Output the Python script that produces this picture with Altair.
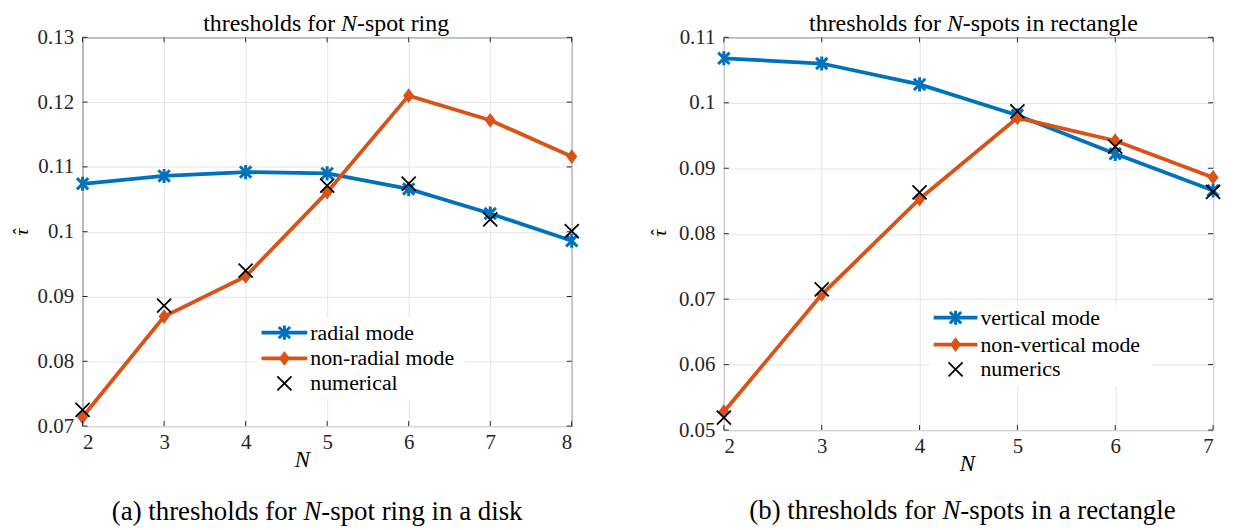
import altair as alt
import pandas as pd

# ---------------- data ----------------
N_a = [2, 3, 4, 5, 6, 7, 8]
radial_mode = [0.1074, 0.1086, 0.1092, 0.1090, 0.1066, 0.1028, 0.0986]
nonradial_mode = [0.0714, 0.0869, 0.0931, 0.1061, 0.1210, 0.1172, 0.1116]
numerical_a = [0.0725, 0.0886, 0.0940, 0.1071, 0.1074, 0.1019, 0.1001]
yticks_a = [0.07, 0.08, 0.09, 0.10, 0.11, 0.12, 0.13]
names_a = ["radial mode", "non-radial mode", "numerical"]

N_b = [2, 3, 4, 5, 6, 7]
vertical_mode = [0.1068, 0.1060, 0.1028, 0.0981, 0.0922, 0.0866]
nonvertical_mode = [0.0528, 0.0707, 0.0853, 0.0977, 0.0942, 0.0886]
numerics_b = [0.0519, 0.0715, 0.0863, 0.0987, 0.0933, 0.0864]
yticks_b = [0.05, 0.06, 0.07, 0.08, 0.09, 0.10, 0.11]
names_b = ["vertical mode", "non-vertical mode", "numerics"]

BLUE = "#0072BD"
ORANGE = "#D95319"
FONT = "'Liberation Serif', 'Times New Roman', serif"
INK = "#262626"

ASTERISK = "M-1,-1L1,1M-1,1L1,-1M0,-1.25L0,1.25"
DIAMOND = "M0,-1L0.75,0L0,1L-0.75,0Z"
XMARK = "M-1,-1L1,1M-1,1L1,-1"

WT = {' ': 250, '(': 333, ')': 333, '-': 333, 'a': 444, 'b': 500, 'c': 444, 'd': 500,
      'e': 444, 'f': 333, 'g': 500, 'h': 500, 'i': 278, 'k': 500, 'l': 278, 'm': 778,
      'n': 500, 'o': 500, 'p': 500, 'r': 333, 's': 389, 't': 278, 'u': 500, 'v': 500,
      'x': 500, 'y': 500, 'N': 667}


def tw(s, size):
    return sum(WT.get(c, 500) for c in s) * size / 1000.0


one = pd.DataFrame({"k": [0]})


def txt(s, x, y, size, align="left", style="normal", angle=0, baseline="middle"):
    kw = dict(align=align, baseline=baseline, font=FONT, fontSize=size,
              fontStyle=style, color="black")
    if angle:
        kw["angle"] = angle
    return alt.Chart(one).mark_text(**kw).encode(
        x=alt.value(x), y=alt.value(y), text=alt.value(s))


def rich(pre, it, post, cx, cy, size, baseline="middle"):
    w1, w2, w3 = tw(pre, size), tw(it, size), tw(post, size)
    x0 = cx - (w1 + w2 + w3) / 2.0
    return [txt(pre.rstrip(), x0, cy, size, baseline=baseline),
            txt(it, x0 + w1, cy, size, style="italic", baseline=baseline),
            txt(post, x0 + w1 + w2, cy, size, baseline=baseline)]


def panel(N, s1, s2, s3, names, yticks, W, H, title, caption, tpos, cpos,
          npos, taupos, box, rows, lx):
    n = len(N)
    df = pd.DataFrame({"N": N * 3, "tau": s1 + s2 + s3,
                       "series": [names[0]] * n + [names[1]] * n + [names[2]] * n})
    xs = alt.Scale(domain=[N[0], N[-1]], nice=False, zero=False)
    ys = alt.Scale(domain=[yticks[0], yticks[-1]], nice=False, zero=False)
    xe = alt.X("N:Q", scale=xs, axis=alt.Axis(values=N, title=None, grid=True, ticks=False,
                                              domain=False, labelPadding=6, format="d"))
    ye = alt.Y("tau:Q", scale=ys, axis=alt.Axis(values=yticks, title=None, grid=True, ticks=False,
                                                domain=False, labelPadding=9, format=".2~f"))
    base = alt.Chart(df).encode(x=xe, y=ye)
    f = lambda i: alt.datum.series == names[i]
    layers = [
        base.transform_filter(f(0)).mark_line(color=BLUE, strokeWidth=3.8),
        base.transform_filter(f(0)).mark_point(shape=ASTERISK, filled=False, size=130,
                                               strokeWidth=3, color=BLUE, opacity=1),
        base.transform_filter(f(1)).mark_line(color=ORANGE, strokeWidth=3.8),
        base.transform_filter(f(1)).mark_point(shape=DIAMOND, filled=True, size=220,
                                               color=ORANGE, opacity=1),
        base.transform_filter(f(2)).mark_point(shape=XMARK, filled=False, size=200,
                                               strokeWidth=1.8, color="black", opacity=1),
    ]
    # inward tick marks on all four sides
    tx = pd.DataFrame({"N": N})
    ty = pd.DataFrame({"tau": yticks})
    tick = dict(color=INK, strokeWidth=1)
    layers += [
        alt.Chart(tx).mark_rule(**tick).encode(x=xe, y=alt.value(H), y2=alt.value(H - 5)),
        alt.Chart(tx).mark_rule(**tick).encode(x=xe, y=alt.value(0), y2=alt.value(5)),
        alt.Chart(ty).mark_rule(**tick).encode(y=ye, x=alt.value(0), x2=alt.value(5)),
        alt.Chart(ty).mark_rule(**tick).encode(y=ye, x=alt.value(W), x2=alt.value(W - 5)),
    ]
    # legend
    x1, y1, x2, y2 = box
    layers.append(alt.Chart(one).mark_rect(color="white").encode(
        x=alt.value(x1), x2=alt.value(x2), y=alt.value(y1), y2=alt.value(y2)))
    la, lb = lx
    mid = (la + lb) / 2.0
    layers.append(alt.Chart(one).mark_rule(color=BLUE, strokeWidth=3.8).encode(
        x=alt.value(la), x2=alt.value(lb), y=alt.value(rows[0])))
    layers.append(alt.Chart(one).mark_point(shape=ASTERISK, filled=False, size=130, strokeWidth=3,
                                            color=BLUE, opacity=1).encode(
        x=alt.value(mid), y=alt.value(rows[0])))
    layers.append(alt.Chart(one).mark_rule(color=ORANGE, strokeWidth=3.8).encode(
        x=alt.value(la), x2=alt.value(lb), y=alt.value(rows[1])))
    layers.append(alt.Chart(one).mark_point(shape=DIAMOND, filled=True, size=220,
                                            color=ORANGE, opacity=1).encode(
        x=alt.value(mid), y=alt.value(rows[1])))
    layers.append(alt.Chart(one).mark_point(shape=XMARK, filled=False, size=200, strokeWidth=1.8,
                                            color="black", opacity=1).encode(
        x=alt.value(mid), y=alt.value(rows[2])))
    for i in range(3):
        layers.append(txt(names[i], lb + 3, rows[i], 22))
    # titles / labels
    layers += rich(*title, tpos[0], tpos[1], 24, baseline="alphabetic")
    layers += rich(*caption, cpos[0], H + cpos[1], 27)
    layers.append(txt("N", npos[0], H + npos[1], 23, align="center", style="italic"))
    layers.append(txt("τ", taupos[0], taupos[1], 20, align="center", style="italic", angle=270))
    layers.append(txt("ˆ", taupos[0] - 1, taupos[1] - 1, 18, align="center", angle=270))
    return alt.layer(*layers).properties(width=W, height=H)


left = panel(N_a, radial_mode, nonradial_mode, numerical_a, names_a, yticks_a, 492, 391,
             ("thresholds for ", "N", "-spot ring"),
             ("(a) thresholds for ", "N", "-spot ring in a disk"),
             (245, -6), (236, 86), (221, 34), (-61, 196),
             (175, 282, 385, 365), (297, 323, 348), (180, 226))

right = panel(N_b, vertical_mode, nonvertical_mode, numerics_b, names_b, yticks_b, 492, 395,
              ("thresholds for ", "N", "-spots in rectangle"),
              ("(b) thresholds for ", "N", "-spots in a rectangle"),
              (251, -6), (240, 81), (245, 34), (-64, 197),
              (207, 269, 430, 351), (282, 309, 334), (211, 255))

chart = alt.hconcat(left, right, spacing=153, bounds="flush").properties(
    padding={"left": 3, "top": 2, "right": 0, "bottom": 0}
).configure(font=FONT).configure_view(stroke=INK, strokeWidth=1).configure_axis(
    labelFont=FONT, labelFontSize=21, labelColor=INK, gridColor="#e4e4e4", gridWidth=1
)

chart.save("out.html", embed_options={"renderer": "svg", "actions": False})
